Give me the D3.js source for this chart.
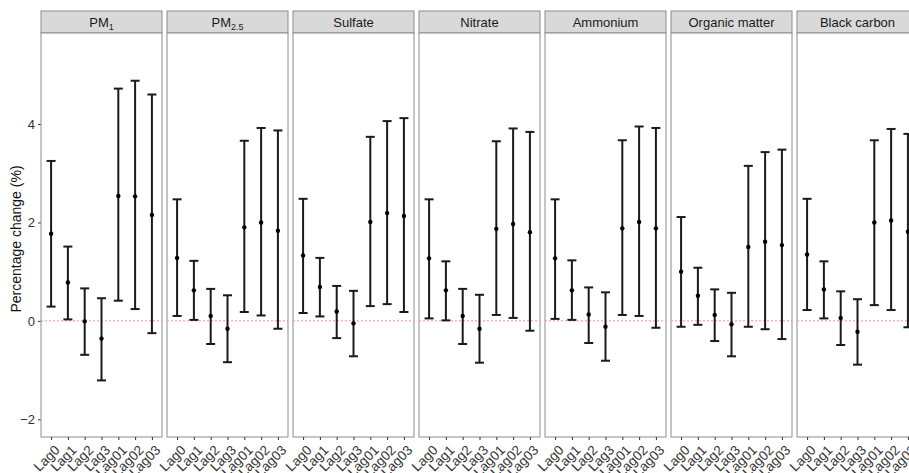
<!DOCTYPE html>
<html>
<head>
<meta charset="utf-8">
<script src="https://cdn.jsdelivr.net/npm/d3@7"></script>
<style>
  body { margin: 0; background: #fff; }
  svg { font-family: Arial, "Liberation Sans", sans-serif; }
</style>
</head>
<body>
<svg id="chart" width="909" height="473"></svg>
<script>
// facets and lag categories
const pollutants = ["PM1", "PM2.5", "Sulfate", "Nitrate", "Ammonium", "Organic matter", "Black carbon"];
const lags = ["Lag0", "Lag1", "Lag2", "Lag3", "Lag01", "Lag02", "Lag03"];
const yTicks = [-2, 0, 2, 4];

// point estimates, one row per pollutant
const estimate = [
  [1.77, 0.78, -0.01, -0.36, 2.54, 2.53, 2.15],
  [1.28, 0.62, 0.10, -0.16, 1.90, 2.00, 1.83],
  [1.33, 0.69, 0.19, -0.05, 2.01, 2.19, 2.13],
  [1.27, 0.62, 0.10, -0.16, 1.87, 1.97, 1.80],
  [1.27, 0.62, 0.13, -0.12, 1.88, 2.01, 1.88],
  [1.00, 0.51, 0.12, -0.07, 1.50, 1.61, 1.54],
  [1.35, 0.64, 0.06, -0.22, 2.00, 2.04, 1.81]
];
// lower 95% CI
const lower = [
  [0.29, 0.03, -0.69, -1.21, 0.41, 0.24, -0.25],
  [0.10, 0.02, -0.47, -0.84, 0.18, 0.11, -0.16],
  [0.16, 0.09, -0.35, -0.72, 0.30, 0.34, 0.18],
  [0.05, 0.01, -0.47, -0.85, 0.12, 0.06, -0.20],
  [0.04, 0.02, -0.45, -0.81, 0.12, 0.10, -0.14],
  [-0.12, -0.08, -0.41, -0.72, -0.12, -0.17, -0.37],
  [0.22, 0.05, -0.49, -0.89, 0.32, 0.22, -0.13]
];
// upper 95% CI
const upper = [
  [3.25, 1.51, 0.66, 0.46, 4.72, 4.88, 4.60],
  [2.47, 1.22, 0.65, 0.52, 3.66, 3.92, 3.87],
  [2.48, 1.28, 0.71, 0.61, 3.74, 4.06, 4.12],
  [2.47, 1.21, 0.65, 0.53, 3.65, 3.91, 3.84],
  [2.47, 1.23, 0.68, 0.58, 3.67, 3.95, 3.92],
  [2.11, 1.08, 0.64, 0.57, 3.15, 3.43, 3.48],
  [2.48, 1.21, 0.60, 0.44, 3.67, 3.90, 3.80]
];

const svg = d3.select("#chart");

const panelLeft = 41, panelW = 121, panelStep = 126;
const stripTop = 11, stripH = 22;
const panelTop = stripTop + stripH, panelBottom = 437;

let y = d3.scaleLinear().domain([-2.36, 5.85]).range([panelBottom, panelTop]);
let x = d3.scalePoint().domain(lags).range([0, panelW]).padding(0.6);

// y axis on the first panel
let yAxis = svg.append("g")
  .attr("transform", "translate(" + panelLeft + ",0)")
  .call(d3.axisLeft(y).tickValues(yTicks).tickSize(3).tickPadding(3).tickFormat(d3.format("d")));
yAxis.select(".domain").remove();
yAxis.selectAll("line").attr("stroke", "#333");
yAxis.selectAll("text").attr("font-size", 13).attr("fill", "#333")
  .attr("font-family", "Arial, 'Liberation Sans', sans-serif");

svg.append("text")
  .attr("transform", "translate(20.5," + ((panelTop + panelBottom) / 2 + 4) + ") rotate(-90)")
  .attr("text-anchor", "middle")
  .attr("font-size", 14)
  .attr("fill", "#111")
  .text("Percentage change (%)");

pollutants.forEach((name, i) => {
  let x0 = panelLeft + i * panelStep;
  let g = svg.append("g").attr("transform", "translate(" + x0 + ",0)");

  // strip
  g.append("rect")
    .attr("x", 0).attr("y", stripTop).attr("width", panelW).attr("height", stripH)
    .attr("fill", "#d9d9d9").attr("stroke", "#8c8c8c").attr("stroke-width", 1);
  let label = g.append("text")
    .attr("x", panelW / 2).attr("y", stripTop + 16)
    .attr("text-anchor", "middle").attr("font-size", 13).attr("fill", "#1a1a1a");
  if (name.startsWith("PM")) {
    label.append("tspan").text("PM");
    label.append("tspan").attr("font-size", 9).attr("dy", 3).text(name.slice(2));
  } else {
    label.text(name);
  }

  // panel box
  g.append("rect")
    .attr("x", 0).attr("y", panelTop).attr("width", panelW).attr("height", panelBottom - panelTop)
    .attr("fill", "#fff").attr("stroke", "#8c8c8c").attr("stroke-width", 1);

  // reference line at zero
  g.append("line")
    .attr("x1", 0).attr("x2", panelW).attr("y1", y(0)).attr("y2", y(0))
    .attr("stroke", "#ff8a8a").attr("stroke-width", 1).attr("stroke-dasharray", "2,2");

  // x axis
  let xAxis = g.append("g")
    .attr("transform", "translate(0," + panelBottom + ")")
    .call(d3.axisBottom(x).tickSize(3).tickPadding(2));
  xAxis.select(".domain").remove();
  xAxis.selectAll("line").attr("stroke", "#333");
  xAxis.selectAll("text")
    .attr("font-size", 13.5).attr("fill", "#333")
    .attr("font-family", "Arial, 'Liberation Sans', sans-serif")
    .attr("text-anchor", "end")
    .attr("dy", null).attr("y", null)
    .attr("transform", "translate(9,14) rotate(-45)");

  let rows = lags.map((lag, j) => ({ lag: lag, est: estimate[i][j], lo: lower[i][j], hi: upper[i][j] }));

  let bars = g.selectAll(".bar").data(rows).enter().append("g").attr("class", "bar");
  bars.append("line")
    .attr("x1", d => x(d.lag)).attr("x2", d => x(d.lag))
    .attr("y1", d => y(d.lo)).attr("y2", d => y(d.hi))
    .attr("stroke", "#1a1a1a").attr("stroke-width", 2);
  bars.append("line")
    .attr("x1", d => x(d.lag) - 4.5).attr("x2", d => x(d.lag) + 4.5)
    .attr("y1", d => y(d.hi)).attr("y2", d => y(d.hi))
    .attr("stroke", "#1a1a1a").attr("stroke-width", 2);
  bars.append("line")
    .attr("x1", d => x(d.lag) - 4.5).attr("x2", d => x(d.lag) + 4.5)
    .attr("y1", d => y(d.lo)).attr("y2", d => y(d.lo))
    .attr("stroke", "#1a1a1a").attr("stroke-width", 2);
  bars.append("circle")
    .attr("cx", d => x(d.lag)).attr("cy", d => y(d.est)).attr("r", 2.2)
    .attr("fill", "#000");
});
</script>
</body>
</html>
